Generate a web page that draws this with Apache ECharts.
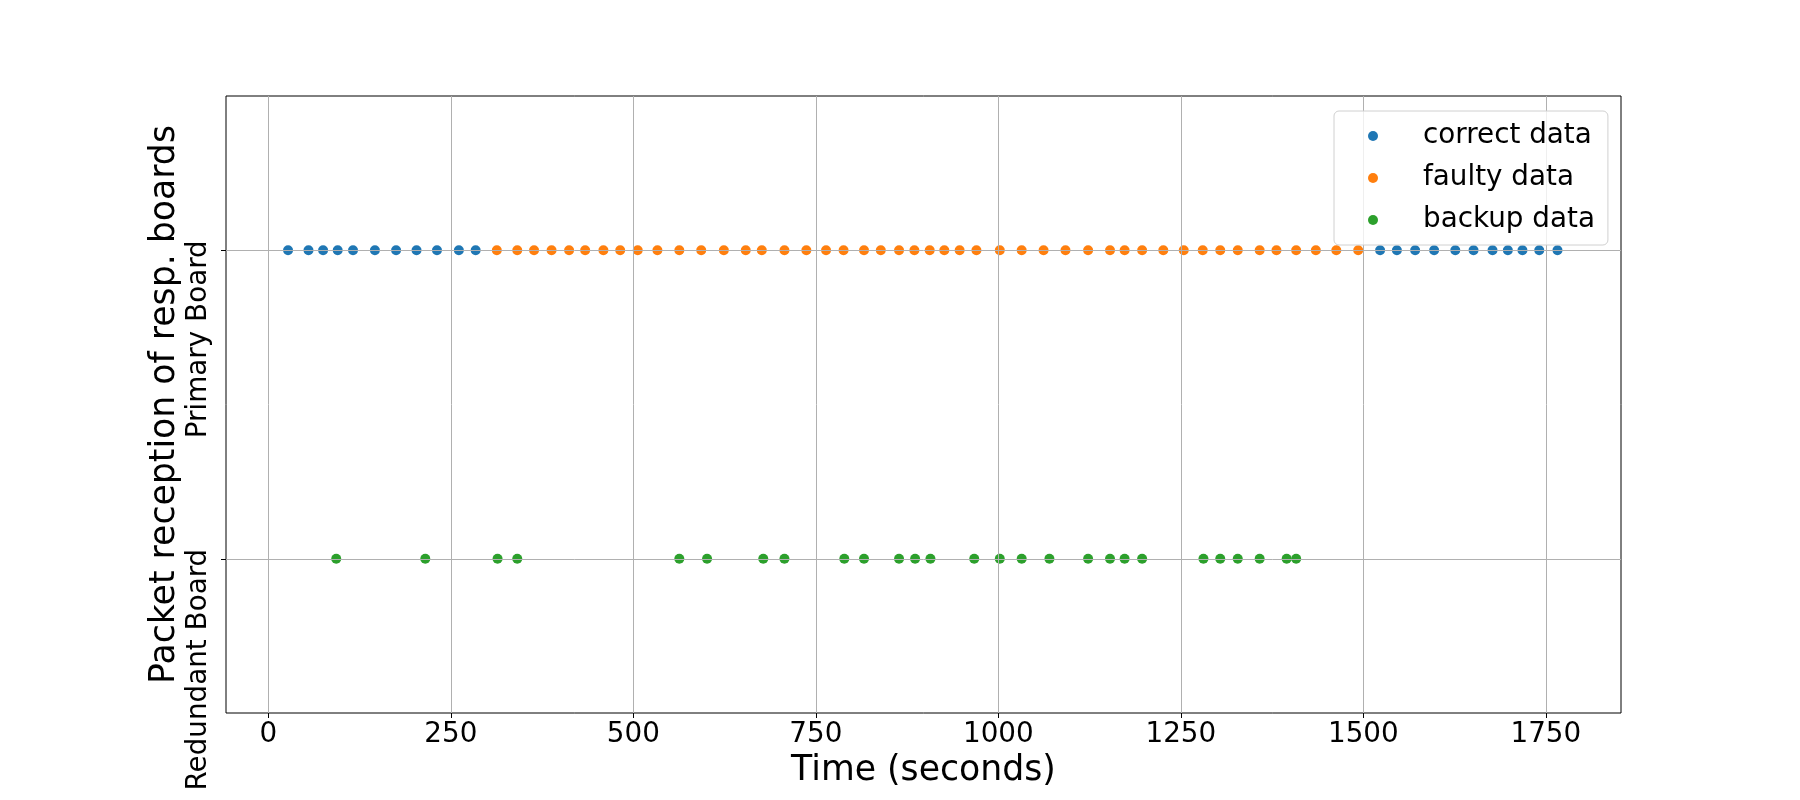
<!DOCTYPE html>
<html>
<head>
<meta charset="utf-8">
<script src="https://cdn.jsdelivr.net/npm/echarts@6/dist/echarts.min.js"></script>
<style>
  html, body { margin: 0; padding: 0; background: #fff; }
  #chart { width: 1800px; height: 800px; }
</style>
</head>
<body>
<div id="chart"></div>
<script>
// ---- data (seconds) ----
const correctTimes = [27, 55, 75, 95, 116, 146, 175, 203, 231, 261, 284,
  1523, 1546, 1571, 1597, 1626, 1651, 1677, 1698, 1718, 1741, 1766];
const faultyTimes = [313, 341, 364, 388, 412, 434, 459, 482, 506, 533, 563, 593, 624, 654, 676,
  707, 737, 764, 788, 816, 839, 864, 885, 906, 926, 947, 970, 1002, 1032, 1062, 1092, 1123,
  1153, 1173, 1197, 1226, 1254, 1280, 1304, 1328, 1358, 1381, 1408, 1435, 1463, 1493];
const backupTimes = [93, 215, 314, 341, 563, 601, 678, 707, 789, 816, 864, 886, 907, 967, 1002,
  1032, 1070, 1123, 1153, 1173, 1197, 1281, 1304, 1328, 1358, 1395, 1408];

const seriesNames = ['correct data', 'faulty data', 'backup data'];
const boardLevels = [0, 1];
const boardLabels = ['Redundant Board', 'Primary Board'];
const xTicks = [0, 250, 500, 750, 1000, 1250, 1500, 1750];
const xTitle = 'Time (seconds)';
const yTitle = 'Packet reception of resp. boards';

const FONT = 'DejaVu Sans';
const chart = echarts.init(document.getElementById('chart'), null, { renderer: 'canvas' });

function pts(times, level) { return times.map(t => [t, level]); }

chart.setOption({
  backgroundColor: '#ffffff',
  animation: false,
  textStyle: { fontFamily: FONT },
  grid: {
    left: 226, right: 179, top: 96, bottom: 87,
    show: true, borderColor: '#000', borderWidth: 1, backgroundColor: 'transparent',
    outerBoundsMode: 'none'
  },
  legend: {
    orient: 'vertical',
    left: 1334, top: 111,
    padding: [10, 13, 10, 34],
    itemGap: 12,
    itemWidth: 30, itemHeight: 10,
    icon: 'circle',
    backgroundColor: 'rgba(255,255,255,0.8)',
    borderColor: '#d0d0d0', borderWidth: 1, borderRadius: 5,
    textStyle: { fontFamily: FONT, fontSize: 27.8, color: '#000', lineHeight: 30, padding: [0, 0, 0, 30] },
    data: seriesNames,
    selectedMode: false
  },
  xAxis: {
    type: 'value', min: -58, max: 1853, z: 3,
    axisLine: { show: false, onZero: false },
    axisTick: { show: true, customValues: xTicks, length: 5, lineStyle: { color: '#000', width: 1 } },
    axisLabel: { customValues: xTicks, formatter: v => String(v),
      fontFamily: FONT, fontSize: 27.8, color: '#000', margin: 8 },
    splitLine: { show: true, lineStyle: { color: '#b0b0b0', width: 1 } },
    name: xTitle, nameLocation: 'middle', nameGap: 40, nameMoveOverlap: false,
    nameTextStyle: { fontFamily: FONT, fontSize: 34.7, color: '#000' }
  },
  yAxis: {
    type: 'value', min: -0.5, max: 1.5, z: 3,
    axisLine: { show: false, onZero: false },
    axisTick: { show: true, customValues: boardLevels, length: 5, lineStyle: { color: '#000', width: 1 } },
    axisLabel: {
      customValues: boardLevels,
      formatter: v => boardLabels[boardLevels.indexOf(v)],
      rotate: 90, align: 'right', verticalAlign: 'bottom', padding: [0, -10, 0, 0],
      fontFamily: FONT, fontSize: 27.8, color: '#000', margin: 13
    },
    splitLine: { show: true, lineStyle: { color: '#b0b0b0', width: 1 } },
    name: yTitle, nameLocation: 'middle', nameGap: 44, nameMoveOverlap: false,
    nameTextStyle: { fontFamily: FONT, fontSize: 34.7, color: '#000' }
  },
  series: [
    { name: seriesNames[0], type: 'scatter', z: 2, symbolSize: 10,
      itemStyle: { color: '#1f77b4', opacity: 1 }, data: pts(correctTimes, 1) },
    { name: seriesNames[1], type: 'scatter', z: 2, symbolSize: 10,
      itemStyle: { color: '#ff7f0e', opacity: 1 }, data: pts(faultyTimes, 1) },
    { name: seriesNames[2], type: 'scatter', z: 2, symbolSize: 10,
      itemStyle: { color: '#2ca02c', opacity: 1 }, data: pts(backupTimes, 0) }
  ]
});
</script>
</body>
</html>
